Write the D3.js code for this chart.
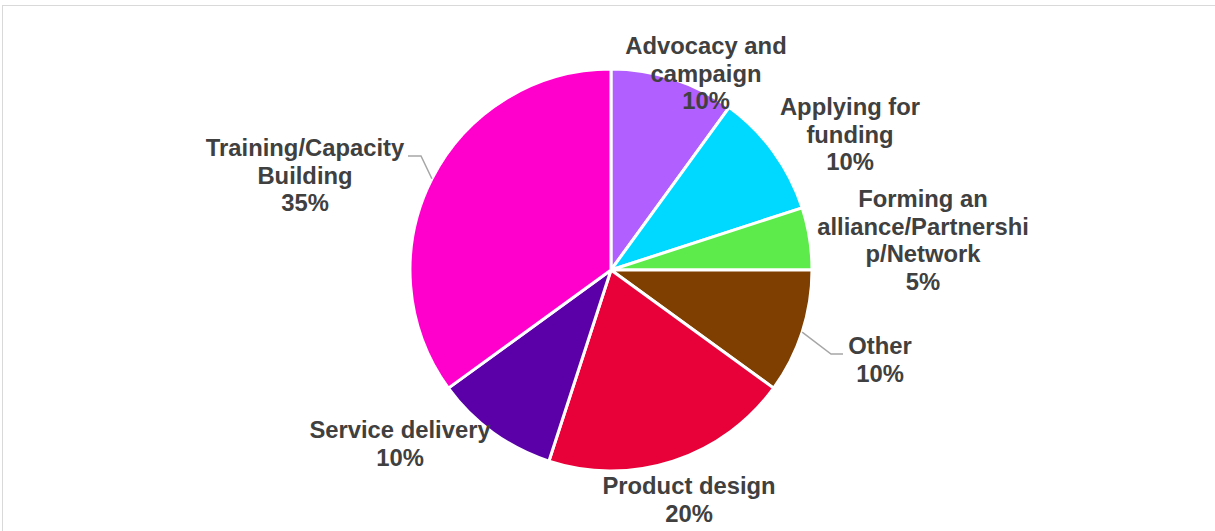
<!DOCTYPE html>
<html>
<head>
<meta charset="utf-8">
<script src="https://cdn.jsdelivr.net/npm/d3@7"></script>
<style>
  body { margin: 0; background: #fff; }
  text { font-family: "Liberation Sans", Arial, sans-serif; font-weight: bold; fill: #404040; }
</style>
</head>
<body>
<div id="chart"></div>
<script>
// chart data, in the order the slices go round (clockwise from 12 o'clock)
var categories = ['Advocacy and campaign', 'Applying for funding', 'Forming an alliance/Partnership/Network',
  'Other', 'Product design', 'Service delivery', 'Training/Capacity Building'];
var shares = [10, 10, 5, 10, 20, 10, 35];
var sliceColors = ['#b15fff', '#00d9ff', '#5ceb4b', '#7f3f00', '#e80038', '#5b00a8', '#ff00cc'];

// how each label is wrapped, like the original
var labelLines = [
  ['Advocacy and', 'campaign'],
  ['Applying for', 'funding'],
  ['Forming an', 'alliance/Partnershi', 'p/Network'],
  ['Other'],
  ['Product design'],
  ['Service delivery'],
  ['Training/Capacity', 'Building']
];

var svgWidth = 1215;
var svgHeight = 531;
var cx = 611, cy = 270, radius = 201;

var svg = d3.select('#chart').append('svg')
  .attr('width', svgWidth)
  .attr('height', svgHeight);

// chart area border (only top and left are in view)
svg.append('rect')
  .attr('x', 2.5).attr('y', 5.5)
  .attr('width', svgWidth + 10).attr('height', svgHeight + 10)
  .attr('fill', 'none')
  .attr('stroke', '#d9d9d9');

var pie = d3.pie().sort(null).value(d => d);
var arcs = pie(shares);

var arc = d3.arc().innerRadius(0).outerRadius(radius);

var g = svg.append('g').attr('transform', `translate(${cx},${cy})`);

g.selectAll('path')
  .data(arcs)
  .enter()
  .append('path')
  .attr('d', arc)
  .attr('fill', (d, i) => sliceColors[i])
  .attr('stroke', '#fff')
  .attr('stroke-width', 3)
  .attr('stroke-linejoin', 'round');

// label anchor points (centre of the first line), placed as in the original
var labelPos = [[706, 46], [850, 107], [923, 199], [880, 346], [689, 486], [400, 430], [305, 148]];
var lineHeight = 27.5;

var labels = svg.selectAll('.lbl')
  .data(arcs)
  .enter()
  .append('text')
  .attr('class', 'lbl')
  .attr('text-anchor', 'middle')
  .attr('font-size', '23.8px')
  .attr('transform', (d, i) => `translate(${labelPos[i][0]},${labelPos[i][1] + 8})`);

labels.each(function(d, i) {
  var t = d3.select(this);
  var lines = labelLines[i].concat([shares[i] + '%']);
  lines.forEach(function(line, k) {
    t.append('tspan').attr('x', 0).attr('y', k * lineHeight).text(line);
  });
});

// leader lines for the two labels that sit away from their slice
function leader(i, elbow, end) {
  var a = (arcs[i].startAngle + arcs[i].endAngle) / 2;
  var px = cx + radius * Math.sin(a), py = cy - radius * Math.cos(a);
  svg.append('polyline')
    .attr('points', [[px, py], elbow, end].map(p => p.join(',')).join(' '))
    .attr('fill', 'none')
    .attr('stroke', '#a6a6a6')
    .attr('stroke-width', 1.5);
}
leader(6, [421, 156], [408, 156]);
leader(3, [831, 354], [843, 354]);
</script>
</body>
</html>
